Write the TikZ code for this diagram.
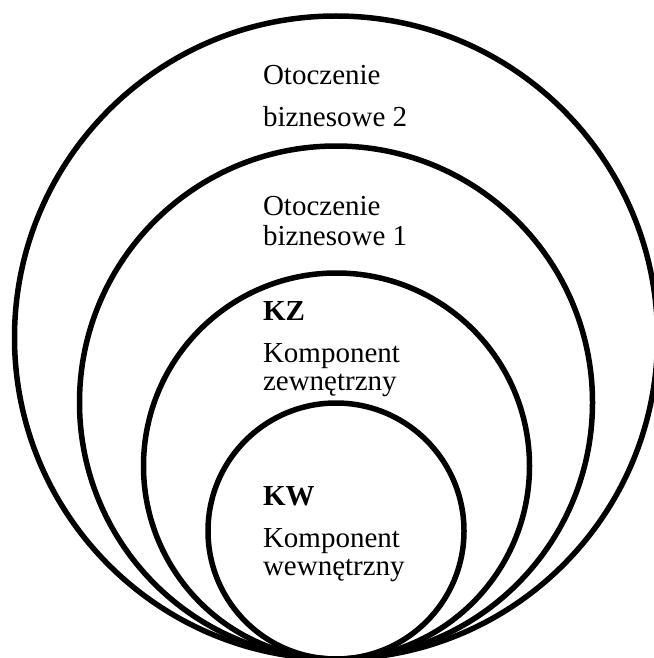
\documentclass[tikz,border=0pt]{standalone}
\usepackage{fontspec}
\setmainfont{Liberation Serif}
\begin{document}
\begin{tikzpicture}[x=1pt,y=-1pt,
  ring/.style={draw=black,line width=5.5pt},
  lbl/.style={anchor=base west,inner sep=0pt,outer sep=0pt,font=\fontsize{29}{32}\selectfont},
  blbl/.style={lbl,font=\fontsize{29}{32}\selectfont\bfseries}]
\useasboundingbox (0,0) rectangle (653,658);
\fill[white] (0,0) rectangle (653,658);
% rings, all touching at the bottom point
\draw[ring] (336,337.5) circle[radius=321.5pt];
\draw[ring] (336,402.5) circle[radius=256.5pt];
\draw[ring] (336.5,466) circle[radius=193pt];
\draw[ring] (336,531) circle[radius=128pt];
% labels
\node[lbl] (o2a) at (263,85) {Otoczenie};
\node[lbl] (o2b) at (263,126) {biznesowe 2};
\node[lbl] (o1a) at (263,215) {Otoczenie};
\node[lbl] (o1b) at (263,245) {biznesowe 1};
\node[blbl] (kz) at (263,320) {KZ};
\node[lbl] (kza) at (263,362) {Komponent};
\node[lbl] (kzb) at (263,390) {zewnętrzny};
\node[blbl] (kw) at (263,505) {KW};
\node[lbl] (kwa) at (263,547) {Komponent};
\node[lbl] (kwb) at (263,575) {wewnętrzny};
\end{tikzpicture}
\end{document}
